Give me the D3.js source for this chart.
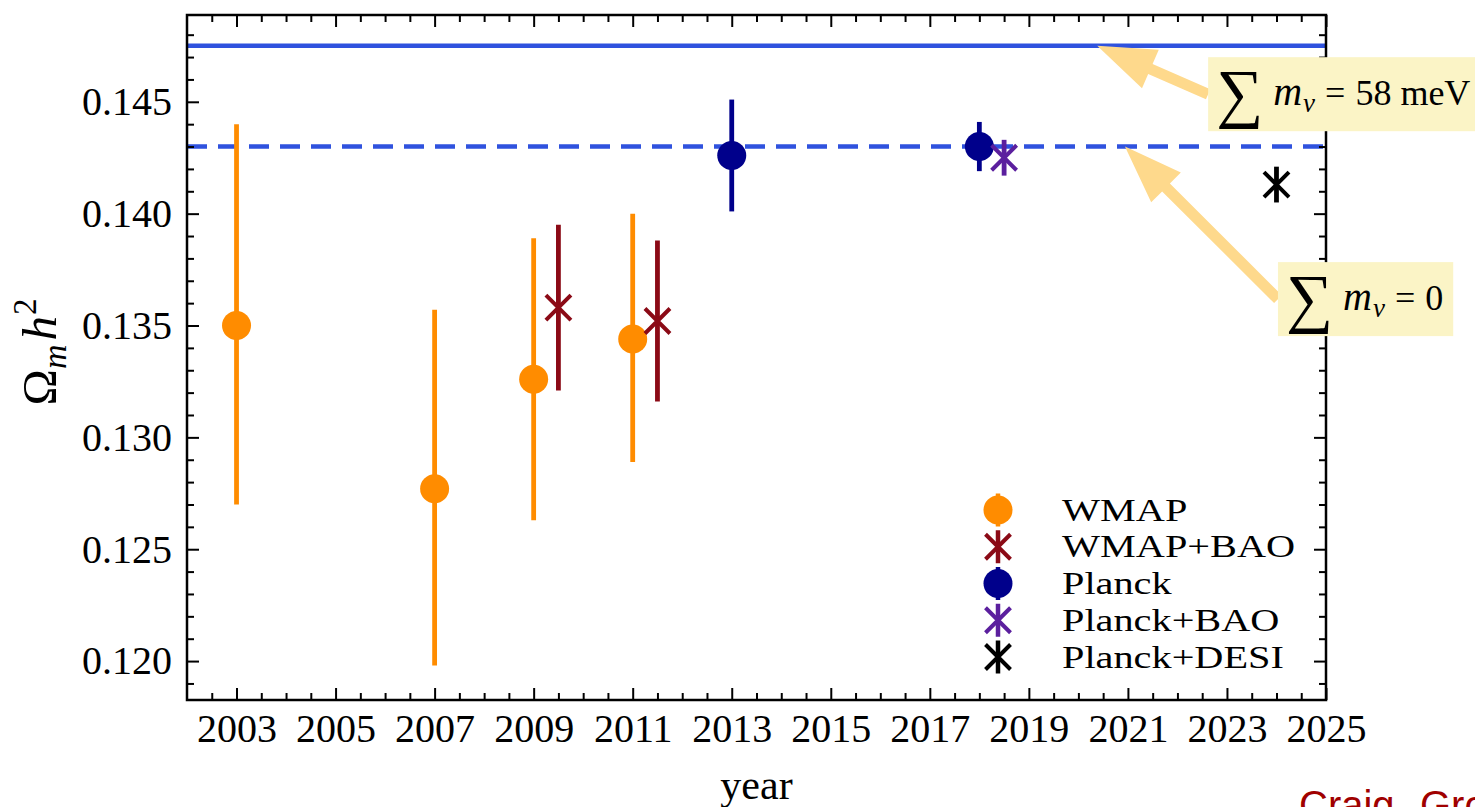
<!DOCTYPE html>
<html>
<head>
<meta charset="utf-8">
<script src="https://cdn.jsdelivr.net/npm/d3@7"></script>
<style>
  html, body { margin: 0; padding: 0; background: #ffffff; overflow: hidden; }
  svg { display: block; }
</style>
</head>
<body>
<svg id="chart" width="1475" height="807"></svg>
<script>
// Omega_m h^2 determinations by year of release
const wmapYears = [2003, 2007, 2009, 2011];
const wmapValues = [0.1350, 0.1277, 0.1326, 0.1344];
const wmapErrUp = [0.0090, 0.0080, 0.0063, 0.0056];
const wmapErrDown = [0.0080, 0.0079, 0.0063, 0.0055];

const wmapBaoYears = [2009.5, 2011.5];
const wmapBaoValues = [0.1358, 0.1352];
const wmapBaoErr = [0.0037, 0.0036];

const planckYears = [2013, 2018];
const planckValues = [0.1426, 0.1430];
const planckErr = [0.0025, 0.0011];

const planckBaoYears = [2018.5];
const planckBaoValues = [0.1425];
const planckBaoErr = [0.0008];

const planckDesiYears = [2024];
const planckDesiValues = [0.1413];
const planckDesiErr = [0.0008];

// Reference levels for the neutrino mass sum
const massiveLevel = 0.1475;   // sum m_nu = 58 meV
const masslessLevel = 0.1430;  // sum m_nu = 0

const yearTicks = [2003, 2005, 2007, 2009, 2011, 2013, 2015, 2017, 2019, 2021, 2023, 2025];
const valueTicks = [0.120, 0.125, 0.130, 0.135, 0.140, 0.145];
const valueTickLabels = ["0.120", "0.125", "0.130", "0.135", "0.140", "0.145"];
const legendLabels = ["WMAP", "WMAP+BAO", "Planck", "Planck+BAO", "Planck+DESI"];

// Annotation callouts: label value, box anchor (left edge, vertical centre) and arrow tip
const noteValues = ["58 meV", "0"];
const noteBoxYears = [2022.62, 2024.03];
const noteBoxValues = [0.14534, 0.13618];
const noteTipYears = [2020.38, 2020.94];
const noteTipValues = [massiveLevel, masslessLevel];

// ---------------------------------------------------------------------------
const W = 1475, H = 807;
const plot = { left: 187, right: 1326, top: 15, bottom: 700 };
const serif = "'Liberation Serif', 'Times New Roman', serif";

const svg = d3.select("#chart");

const x = d3.scaleLinear().domain([2002, 2025]).range([plot.left, plot.right]);
const y = d3.scaleLinear().domain([0.11826, 0.14888]).range([plot.bottom, plot.top]);

svg.append("rect").attr("width", W).attr("height", H).attr("fill", "#ffffff");

svg.append("defs").append("clipPath").attr("id", "plotClip")
  .append("rect")
  .attr("x", plot.left).attr("y", plot.top)
  .attr("width", plot.right - plot.left).attr("height", plot.bottom - plot.top);

const series = [
  { name: legendLabels[0], years: wmapYears, values: wmapValues, up: wmapErrUp, down: wmapErrDown, marker: "circle", color: "#ff8c00" },
  { name: legendLabels[1], years: wmapBaoYears, values: wmapBaoValues, up: wmapBaoErr, down: wmapBaoErr, marker: "x", color: "#8b0a16" },
  { name: legendLabels[2], years: planckYears, values: planckValues, up: planckErr, down: planckErr, marker: "circle", color: "#00008b" },
  { name: legendLabels[3], years: planckBaoYears, values: planckBaoValues, up: planckBaoErr, down: planckBaoErr, marker: "x", color: "#5b1f9e" },
  { name: legendLabels[4], years: planckDesiYears, values: planckDesiValues, up: planckDesiErr, down: planckDesiErr, marker: "x", color: "#000000" }
];

// ---- reference lines ----
const lines = svg.append("g").attr("clip-path", "url(#plotClip)");
lines.append("line")
  .attr("x1", x(2002)).attr("x2", x(2025))
  .attr("y1", y(massiveLevel)).attr("y2", y(massiveLevel))
  .attr("stroke", "#2f52de").attr("stroke-width", 4.5);
lines.append("line")
  .attr("x1", x(2002)).attr("x2", x(2025))
  .attr("y1", y(masslessLevel)).attr("y2", y(masslessLevel))
  .attr("stroke", "#2f52de").attr("stroke-width", 4.5)
  .attr("stroke-dasharray", "20,11");

// ---- markers ----
function drawMarker(g, kind, color, cx, cy) {
  if (kind === "circle") {
    g.append("circle").attr("cx", cx).attr("cy", cy).attr("r", 14.5).attr("fill", color);
  } else {
    const h = 12.5;
    g.append("path")
      .attr("d", `M${cx - h},${cy - h}L${cx + h},${cy + h}M${cx - h},${cy + h}L${cx + h},${cy - h}`)
      .attr("stroke", color).attr("stroke-width", 4).attr("fill", "none");
  }
}

const pts = svg.append("g").attr("clip-path", "url(#plotClip)");
series.forEach(s => {
  s.years.forEach((yr, i) => {
    const v = s.values[i];
    pts.append("line")
      .attr("x1", x(yr)).attr("x2", x(yr))
      .attr("y1", y(v - s.down[i])).attr("y2", y(v + s.up[i]))
      .attr("stroke", s.color).attr("stroke-width", 4.8);
    drawMarker(pts, s.marker, s.color, x(yr), y(v));
  });
});

// ---- axes (ticks pointing inward on all four sides) ----
const minorYears = d3.range(2002.5, 2025, 0.5).filter(v => !(Number.isInteger(v) && v % 2 === 1));
const minorValues = d3.range(119, 149).filter(v => v % 5 !== 0).map(v => v / 1000);

function styleAxis(g) {
  g.select(".domain").remove();
  g.selectAll(".tick line").attr("stroke", "#000").attr("stroke-width", 2);
  g.selectAll("text").attr("font-family", serif).attr("font-size", 40).attr("fill", "#000");
  return g;
}

svg.append("g").attr("transform", `translate(0,${plot.bottom})`)
  .call(d3.axisBottom(x).tickValues(yearTicks).tickSize(-12).tickSizeOuter(0).tickPadding(14).tickFormat(d3.format("d")))
  .call(styleAxis);
svg.append("g").attr("transform", `translate(0,${plot.bottom})`)
  .call(d3.axisBottom(x).tickValues(minorYears).tickSize(-7).tickSizeOuter(0).tickFormat(""))
  .call(styleAxis);
svg.append("g").attr("transform", `translate(0,${plot.top})`)
  .call(d3.axisTop(x).tickValues(yearTicks).tickSize(-12).tickSizeOuter(0).tickFormat(""))
  .call(styleAxis);
svg.append("g").attr("transform", `translate(0,${plot.top})`)
  .call(d3.axisTop(x).tickValues(minorYears).tickSize(-7).tickSizeOuter(0).tickFormat(""))
  .call(styleAxis);

svg.append("g").attr("transform", `translate(${plot.left},0)`)
  .call(d3.axisLeft(y).tickValues(valueTicks).tickSize(-12).tickSizeOuter(0).tickPadding(15)
    .tickFormat((d, i) => valueTickLabels[i]))
  .call(styleAxis);
svg.append("g").attr("transform", `translate(${plot.left},0)`)
  .call(d3.axisLeft(y).tickValues(minorValues).tickSize(-7).tickSizeOuter(0).tickFormat(""))
  .call(styleAxis);
svg.append("g").attr("transform", `translate(${plot.right},0)`)
  .call(d3.axisRight(y).tickValues(valueTicks).tickSize(-12).tickSizeOuter(0).tickFormat(""))
  .call(styleAxis);
svg.append("g").attr("transform", `translate(${plot.right},0)`)
  .call(d3.axisRight(y).tickValues(minorValues).tickSize(-7).tickSizeOuter(0).tickFormat(""))
  .call(styleAxis);

// frame
svg.append("rect")
  .attr("x", plot.left).attr("y", plot.top)
  .attr("width", plot.right - plot.left).attr("height", plot.bottom - plot.top)
  .attr("fill", "none").attr("stroke", "#000").attr("stroke-width", 2.5);

// ---- axis titles ----
svg.append("text")
  .attr("x", (plot.left + plot.right) / 2).attr("y", 799)
  .attr("text-anchor", "middle")
  .attr("font-family", serif).attr("font-size", 42).attr("fill", "#000")
  .text("year");

const yTitle = svg.append("text")
  .attr("transform", `translate(56,352) rotate(-90)`)
  .attr("text-anchor", "middle")
  .attr("font-family", serif).attr("font-size", 49).attr("fill", "#000");
yTitle.append("tspan").text("Ω");
yTitle.append("tspan").attr("font-style", "italic").attr("font-size", 34).attr("dy", 10).text("m");
yTitle.append("tspan").attr("font-style", "italic").attr("dy", -10).attr("dx", 4).text("h");
yTitle.append("tspan").attr("font-size", 33).attr("dy", -20).attr("dx", 1).text("2");

// ---- legend ----
const legend = svg.append("g");
const legendMarkX = plot.right - 328;
const legendTextX = plot.right - 264;
const legendTop = 510, legendStep = 36.75;
series.forEach((s, i) => {
  const cy = legendTop + i * legendStep;
  legend.append("line")
    .attr("x1", legendMarkX).attr("x2", legendMarkX)
    .attr("y1", cy - 16.5).attr("y2", cy + 16.5)
    .attr("stroke", s.color).attr("stroke-width", 4.5);
  drawMarker(legend, s.marker, s.color, legendMarkX, cy);
  // wide serif face: a horizontal stretch gives the broad legend lettering
  legend.append("text")
    .attr("transform", `translate(${legendTextX},${cy + 10.5}) scale(1.3,1)`)
    .attr("font-family", serif).attr("font-size", 31).attr("fill", "#000")
    .text(s.name);
});

// ---- callouts with arrows ----
const arrowColor = "#fed98c";
function arrowPath(tx, ty, fx, fy) {
  const dx = fx - tx, dy = fy - ty;
  const len = Math.hypot(dx, dy);
  const ux = dx / len, uy = dy / len;      // from tip toward tail
  const px = -uy, py = ux;                 // perpendicular
  const headLen = 58, headHalf = 21, shaftHalf = 5.5;
  const bx = tx + ux * headLen, by = ty + uy * headLen;
  const p = [
    [tx, ty],
    [bx + px * headHalf, by + py * headHalf],
    [bx + px * shaftHalf, by + py * shaftHalf],
    [fx + px * shaftHalf, fy + py * shaftHalf],
    [fx - px * shaftHalf, fy - py * shaftHalf],
    [bx - px * shaftHalf, by - py * shaftHalf],
    [bx - px * headHalf, by - py * headHalf]
  ];
  return "M" + p.map(q => q.join(",")).join("L") + "Z";
}

const notes = svg.append("g");
noteValues.forEach((val, i) => {
  const bx = x(noteBoxYears[i]);
  const cy = y(noteBoxValues[i]);
  notes.append("path")
    .attr("d", arrowPath(x(noteTipYears[i]), y(noteTipValues[i]), bx, cy))
    .attr("fill", arrowColor);
  const box = notes.append("rect").attr("fill", "#fbf4c6");
  const t = notes.append("text")
    .attr("x", bx + 8).attr("y", cy + 11)
    .attr("font-family", serif).attr("fill", "#000");
  t.append("tspan").attr("font-size", 66).attr("dy", 10).text("∑");
  t.append("tspan").attr("font-size", 40).attr("font-style", "italic").attr("dy", -10).attr("dx", 10).text("m");
  t.append("tspan").attr("font-size", 27).attr("font-style", "italic").attr("dy", 7).attr("dx", 1).text("ν");
  t.append("tspan").attr("font-size", 36).attr("dy", -7).attr("dx", 10).text("=");
  t.append("tspan").attr("font-size", 36).attr("dx", 10).text(val);
  const bb = t.node().getBBox();
  box.attr("x", bx).attr("y", cy - 37)
    .attr("width", bb.x + bb.width + 10 - bx).attr("height", 74);
});

// ---- credit line ----
const credit = svg.append("text")
  .attr("y", 819)
  .attr("font-family", "'Liberation Sans', Arial, sans-serif")
  .attr("font-size", 40).attr("fill", "#a00000");
credit.append("tspan").attr("x", 1299).text("Craig");
credit.append("tspan").attr("x", 1420).text("Gro");
</script>
</body>
</html>
